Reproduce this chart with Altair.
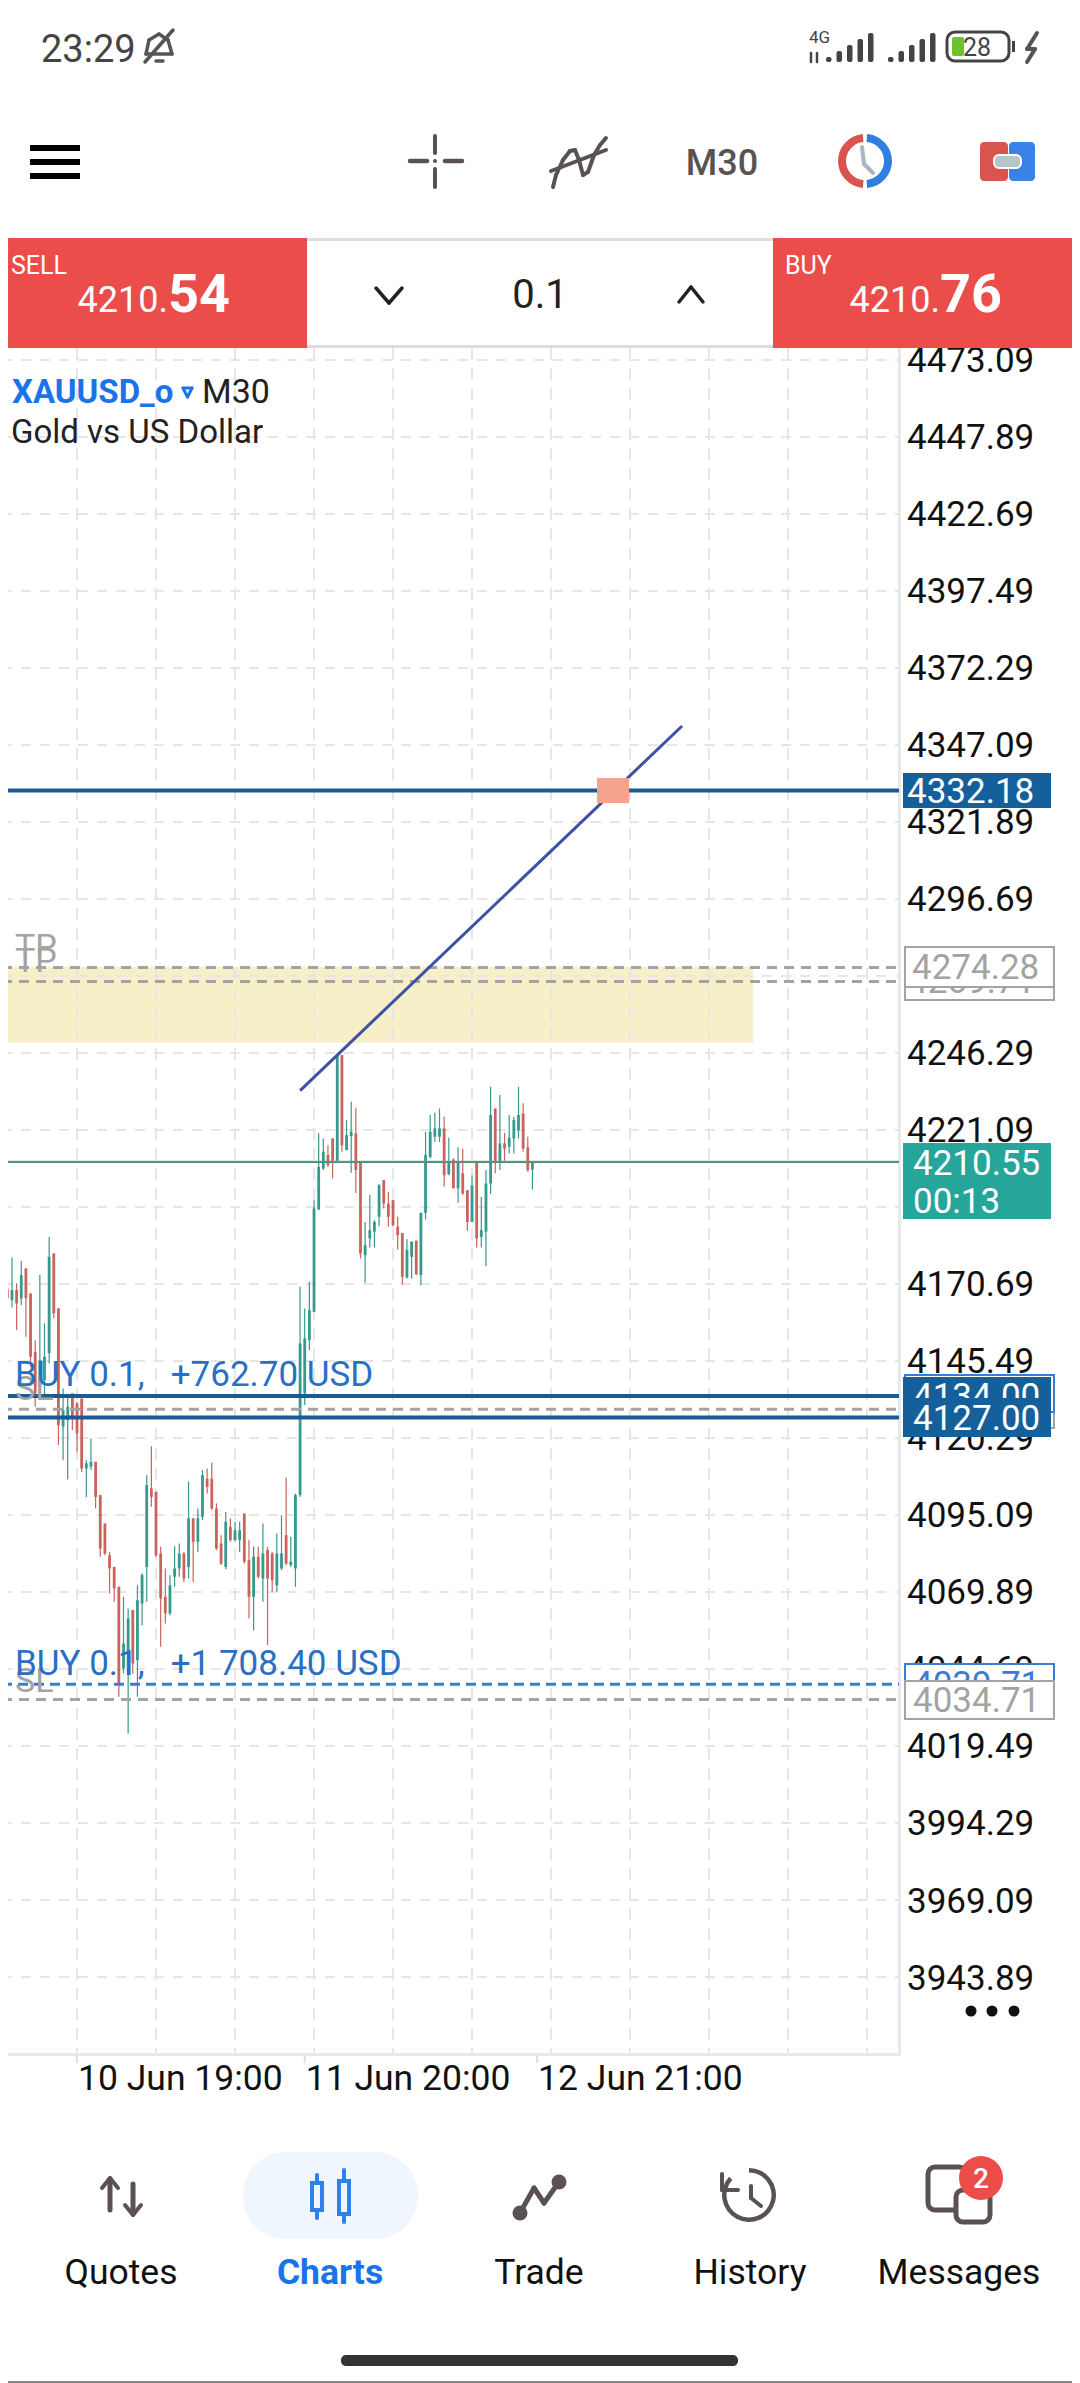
import altair as alt
import pandas as pd

HIGH = [4179.1,4174.7,4179.4,4170.9,4178.3,4175.8,4167.6,4152.3,4173.6,4157.8,
4186.1,4180.7,4162.7,4136.5,4134.3,4134.9,4132.1,4133.2,4113.0,4120.1,
4112.5,4101.6,4092.3,4083.0,4078.1,4071.6,4068.3,4064.5,4064.0,4072.1,
4076.0,4108.1,4117.6,4102.7,4084.7,4077.6,4075.4,4084.9,4085.8,4083.0,
4106.0,4094.0,4097.2,4109.8,4110.3,4112.2,4098.9,4088.5,4096.1,4094.0,
4092.9,4092.9,4095.6,4086.9,4084.7,4084.7,4092.3,4084.7,4083.0,4089.0,
4095.0,4107.4,4088.0,4102.1,4169.8,4162.7,4171.4,4198.1,4220.0,4218.3,
4216.1,4218.3,4245.9,4245.6,4224.3,4230.3,4228.4,4210.7,4191.0,4199.8,
4191.6,4203.4,4204.7,4200.9,4198.1,4192.7,4187.4,4185.3,4184.7,4185.0,
4194.0,4220.5,4226.0,4226.7,4228.1,4225.4,4218.6,4211.8,4215.4,4215.0,
4201.4,4206.3,4210.4,4199.2,4208.0,4235.2,4228.1,4232.5,4220.2,4226.0,
4225.4,4235.2,4229.8,4218.9,4210.6]
LOW = [4165.4,4163.8,4163.0,4155.6,4163.8,4153.4,4143.6,4130.5,4137.0,4132.7,
4144.7,4159.4,4118.0,4113.0,4106.7,4122.9,4115.8,4109.2,4101.0,4109.8,
4097.2,4081.4,4081.9,4069.4,4066.7,4035.6,4043.2,4023.6,4043.2,4035.6,
4059.0,4066.7,4097.8,4081.4,4052.0,4059.6,4062.3,4071.6,4074.9,4073.2,
4074.3,4073.2,4083.0,4093.4,4102.1,4096.7,4083.6,4078.7,4077.3,4086.3,
4086.3,4083.0,4079.2,4061.2,4057.4,4074.3,4066.7,4052.5,4070.0,4070.0,
4077.0,4078.7,4078.1,4071.6,4101.0,4131.1,4149.1,4161.6,4194.9,4208.0,
4209.0,4205.2,4210.7,4214.0,4214.5,4207.1,4200.5,4179.0,4171.1,4182.6,
4182.6,4189.6,4195.4,4189.4,4189.4,4182.0,4170.5,4172.5,4172.5,4173.6,
4170.3,4191.8,4211.8,4217.2,4217.2,4202.5,4206.3,4202.0,4197.3,4199.8,
4188.1,4191.0,4182.6,4182.6,4176.5,4200.1,4206.9,4208.0,4211.0,4213.4,
4213.4,4218.3,4214.0,4207.4,4201.6]
OPEN = [4172.0,4169.2,4165.4,4168.7,4166.0,4175.8,4167.6,4148.5,4137.0,4139.2,
4148.0,4180.7,4162.7,4124.0,4126.1,4134.9,4131.6,4133.2,4110.3,4110.9,
4112.5,4101.6,4092.3,4081.9,4078.1,4071.6,4044.9,4042.7,4064.0,4047.6,
4066.1,4078.1,4103.8,4102.7,4082.5,4068.3,4062.9,4074.9,4077.6,4082.5,
4078.1,4094.0,4086.3,4094.5,4107.0,4107.0,4097.2,4085.8,4078.1,4091.2,
4086.9,4086.9,4095.6,4080.3,4068.3,4081.4,4074.3,4083.6,4082.5,4072.1,
4077.6,4088.5,4078.7,4077.6,4101.6,4134.9,4152.3,4161.6,4195.1,4208.5,
4212.9,4218.3,4211.0,4245.6,4214.5,4219.1,4220.0,4210.7,4180.1,4185.6,
4187.8,4192.7,4204.7,4197.0,4198.1,4189.4,4187.4,4172.8,4179.6,4184.8,
4173.6,4194.0,4212.3,4218.9,4218.9,4221.6,4206.6,4211.4,4202.0,4206.9,
4201.4,4191.0,4210.4,4186.1,4187.8,4203.6,4228.1,4210.7,4216.7,4215.6,
4218.3,4221.0,4226.5,4215.4,4208.2]
CLOSE = [4168.1,4166.0,4168.7,4164.3,4173.6,4166.0,4146.9,4134.9,4145.8,4146.9,
4179.6,4161.1,4124.5,4129.4,4130.5,4126.7,4121.8,4110.3,4112.0,4112.5,
4101.0,4084.1,4082.5,4077.6,4071.0,4040.0,4053.0,4061.2,4046.5,4067.2,
4075.4,4104.9,4101.0,4081.9,4067.8,4062.9,4072.1,4077.6,4082.5,4074.3,
4094.0,4086.3,4094.0,4108.1,4104.3,4097.2,4084.1,4079.2,4092.9,4086.9,
4090.1,4090.1,4079.8,4068.3,4081.4,4074.9,4082.5,4074.3,4073.8,4082.5,
4082.5,4079.2,4079.8,4101.6,4151.2,4152.9,4162.1,4195.4,4209.0,4214.0,
4209.6,4210.7,4245.9,4216.1,4219.4,4220.5,4208.0,4180.7,4183.4,4188.3,
4191.0,4203.0,4197.0,4192.7,4190.0,4186.7,4173.0,4181.8,4184.5,4173.9,
4194.0,4212.9,4220.5,4221.6,4221.6,4206.3,4210.7,4202.0,4210.7,4200.3,
4191.0,4203.0,4185.6,4188.3,4203.6,4226.0,4210.7,4216.7,4215.0,4218.6,
4224.3,4226.0,4215.0,4207.9,4210.4]

PRICE_TICKS = [4473.09,4447.89,4422.69,4397.49,4372.29,4347.09,4321.89,4296.69,4271.49,4246.29,
               4221.09,4195.89,4170.69,4145.49,4120.29,4095.09,4069.89,4044.69,4019.49,3994.29,3969.09,3943.89]
GRID_BARS = [16,33,50,67,84,101,118,135,152,169,186]
DATE_BARS = [16,65,115]
DATE_LABELS = ["10 Jun 19:00","11 Jun 20:00","12 Jun 21:00"]
SOLID_LEVELS = [4332.18,4134.00,4127.00]
GREY_LEVELS = [4274.28,4269.71,4129.71,4034.71]
BLUE_LEVELS = [4039.71]
BID, ASK = 4210.55, 4210.76
TREND = dict(b0=64, b1=146.2, p0=4234.0, p1=4353.3)
ZONE = dict(b0=1.15, b1=161.5, p0=4274.4, p1=4249.6)
MARKER = dict(b0=127.9, b1=134.8, p0=4336.3, p1=4328.1)

FONT = "Roboto"
UP, DOWN = "#35998d", "#cc625c"
GRID = "#e6e6e6"
NAVY = "#15609b"
DARKLINE = "#1b5a94"
GREY = "#a3a3a3"
BLUE = "#3a7bd5"
TEXTBLUE = "#2a6fc4"
ICON = "#5a5252"
RED = "#eb4d4b"
APPBLUE = "#1a73e8"
W, H = 1064, 2375
NUM = 35

xs = alt.Scale(domain=[1.147, 230.11], range=[0, W], nice=False, zero=False)
ys = alt.Scale(domain=[3811.02, 4588.28], range=[H, 0], nice=False, zero=False)
X = lambda f: alt.X(f, type="quantitative", scale=xs, axis=None, title=None)
Y = lambda f: alt.Y(f, type="quantitative", scale=ys, axis=None, title=None)
one = alt.Data(values=[{"a": 0}])
L = []

def px(x): return alt.value(x - 8)

def rect(x0, y0, x1, y1, fill=None, stroke=None, sw=0, r=0):
    kw = {}
    if fill: kw["fill"] = fill
    else: kw["fillOpacity"] = 0
    if stroke:
        kw["stroke"] = stroke; kw["strokeWidth"] = sw
    if r: kw["cornerRadius"] = r
    L.append(alt.Chart(one).mark_rect(**kw).encode(x=px(x0), x2=px(x1), y=px(y0), y2=px(y1)))

def seg(x0, y0, x1, y1, color=ICON, w=4):
    L.append(alt.Chart(one).mark_rule(color=color, strokeWidth=w, strokeCap="round")
             .encode(x=px(x0), x2=px(x1), y=px(y0), y2=px(y1)))

def poly(pts, color=ICON, w=4):
    for a, b in zip(pts, pts[1:]):
        seg(a[0], a[1], b[0], b[1], color, w)

def txt(s, x, y, size=32, color="#111111", align="left", weight="normal"):
    L.append(alt.Chart(one).mark_text(text=s, font=FONT, fontSize=size, color=color, align=align,
                                      baseline="alphabetic", fontWeight=weight).encode(x=px(x), y=px(y)))

def ring(x, y, outer, inner=0, t0=0, t1=6.2832, color=ICON):
    L.append(alt.Chart(one).mark_arc(outerRadius=outer, innerRadius=inner, theta=t0, theta2=t1, color=color)
             .encode(x=px(x), y=px(y)))

bars = pd.DataFrame({"i": range(len(HIGH)), "o": OPEN, "h": HIGH, "l": LOW, "c": CLOSE})
color = alt.condition("datum.c >= datum.o", alt.value(UP), alt.value(DOWN))

# zone
L.append(alt.Chart(pd.DataFrame([ZONE])).mark_rect(fill="#f7efc8")
         .encode(x=X("b0"), x2="b1:Q", y=Y("p0"), y2="p1:Q"))
# grid
L.append(alt.Chart(pd.DataFrame({"p": PRICE_TICKS})).mark_rule(color=GRID, strokeWidth=2, strokeDash=[10, 9])
         .encode(y=Y("p"), x=px(2), x2=px(899)))
L.append(alt.Chart(pd.DataFrame({"b": GRID_BARS})).mark_rule(color=GRID, strokeWidth=2, strokeDash=[12, 8])
         .encode(x=X("b"), y=px(348), y2=px(2054)))
# frame
rect(0, 2053, 899, 2056, fill="#e8e8e8")
rect(898, 348, 901, 2056, fill="#e8e8e8")
L.append(alt.Chart(pd.DataFrame({"b": DATE_BARS})).mark_rule(color="#e0e0e0", strokeWidth=2)
         .encode(x=X("b"), y=px(2056), y2=px(2063)))
L.append(alt.Chart(pd.DataFrame({"b": DATE_BARS, "t": DATE_LABELS})).mark_text(font=FONT, fontSize=NUM + 0.5, color="#111111", align="left", baseline="alphabetic", dx=1)
         .encode(x=X("b"), y=px(2090), text="t:N"))
# price labels
L.append(alt.Chart(pd.DataFrame({"p": PRICE_TICKS})).mark_text(font=FONT, fontSize=NUM, color="#111111", align="left", baseline="middle", dy=1.5)
         .encode(y=Y("p"), x=px(907), text=alt.Text("p:Q", format=".2f")))
# candles
L.append(alt.Chart(bars).mark_rule(strokeWidth=1.2).encode(x=X("i"), y=Y("h"), y2="l:Q", color=color))
L.append(alt.Chart(bars).mark_rule(strokeWidth=2.8).encode(x=X("i"), y=Y("o"), y2="c:Q", color=color))
# level lines
L.append(alt.Chart(pd.DataFrame({"p": GREY_LEVELS})).mark_rule(color=GREY, strokeWidth=3, strokeDash=[10, 7])
         .encode(y=Y("p"), x=px(2), x2=px(899)))
L.append(alt.Chart(pd.DataFrame({"p": BLUE_LEVELS})).mark_rule(color=BLUE, strokeWidth=3, strokeDash=[10, 6])
         .encode(y=Y("p"), x=px(2), x2=px(899)))
L.append(alt.Chart(pd.DataFrame({"p": SOLID_LEVELS})).mark_rule(color=DARKLINE, strokeWidth=4)
         .encode(y=Y("p"), x=px(2), x2=px(899)))
L.append(alt.Chart(pd.DataFrame({"p": [ASK]})).mark_rule(color="#a58a84", strokeWidth=1.5).encode(y=Y("p"), x=px(2), x2=px(899)))
L.append(alt.Chart(pd.DataFrame({"p": [BID]})).mark_rule(color="#4f8a80", strokeWidth=1.5).encode(y=Y("p"), x=px(2), x2=px(899)))
L.append(alt.Chart(pd.DataFrame([TREND])).mark_rule(color="#3f51a5", strokeWidth=3)
         .encode(x=X("b0"), x2="b1:Q", y=Y("p0"), y2="p1:Q"))
L.append(alt.Chart(pd.DataFrame([MARKER])).mark_rect(fill="#f5a38c")
         .encode(x=X("b0"), x2="b1:Q", y=Y("p0"), y2="p1:Q"))

# trade labels
txt("TP", 15, 958, 34, GREY)
txt("TP", 15, 972, 34, GREY)
txt("SL", 15, 1400, 34, GREY)
txt("SL", 15, 1692, 34, GREY)
txt("BUY 0.1,\u00a0\u00a0 +762.70 USD", 15, 1386, 35, TEXTBLUE)
txt("BUY 0.1,\u00a0\u00a0 +1 708.40 USD", 15, 1675, 35, TEXTBLUE)

# price boxes
rect(903, 773, 1051, 808, fill=NAVY)
txt("4332.18", 907, 803, NUM, "#ffffff")
rect(905, 963, 1054, 1000, fill="#ffffff", stroke=GREY, sw=2)
txt("4269.71", 908, 993, NUM, GREY)
rect(905, 947, 1054, 987, fill="#ffffff", stroke=GREY, sw=2)
txt("4274.28", 912, 979, NUM, GREY)
rect(903, 1143, 1051, 1219, fill="#26a69a")
txt("4210.55", 913, 1175, NUM, "#ffffff")
txt("00:13", 913, 1213, NUM, "#ffffff")
rect(905, 1388, 1054, 1428, fill="#ffffff", stroke=GREY, sw=2)
rect(905, 1375, 1054, 1412, fill="#ffffff", stroke=BLUE, sw=2)
rect(903, 1377, 1051, 1415, fill=NAVY)
txt("4134.00", 913, 1408, NUM, "#ffffff")
rect(903, 1398, 1051, 1437, fill=NAVY)
txt("4127.00", 913, 1430, NUM, "#ffffff")
rect(905, 1664, 1054, 1700, fill="#ffffff", stroke=BLUE, sw=2)
txt("4039.71", 913, 1696, NUM, BLUE)
rect(905, 1681, 1054, 1719, fill="#ffffff", stroke=GREY, sw=2)
txt("4034.71", 913, 1712, NUM, GREY)
for cx in (971, 992, 1014):
    ring(cx, 2011, 5.5, color="#111111")

# header
rect(0, 0, 1080, 348, fill="#ffffff")
rect(307, 238, 773, 241, fill="#dddddd")
rect(307, 345, 773, 348, fill="#dddddd")
rect(0, 238, 307, 348, fill=RED)
rect(773, 238, 1080, 348, fill=RED)
txt("SELL", 11, 274, 25, "#ffffff")
txt("4210.", 168, 312, 36, "#ffffff", align="right")
txt("54", 168, 312, 54, "#ffffff", weight="bold")
txt("BUY", 785, 274, 25, "#ffffff")
txt("4210.", 940, 312, 36, "#ffffff", align="right")
txt("76", 940, 312, 54, "#ffffff", weight="bold")
txt("0.1", 540, 308, 40, "#222222", align="center")
poly([(376, 288), (389, 303), (402, 288)], "#222222", 3.5)
poly([(679, 302), (691, 287), (703, 302)], "#222222", 3.5)
txt("XAUUSD_o", 12, 403, 33, APPBLUE, weight="bold")
poly([(183, 388), (192, 388), (187.5, 397), (183, 388)], APPBLUE, 3)
txt("M30", 202, 403, 34, "#222222")
txt("Gold vs US Dollar", 11, 443, 33, "#222222")

# status bar
txt("23:29", 41, 62, 38, "#444444")
poly([(146, 54), (149, 40), (159, 34), (168, 40), (172, 54), (146, 54)], "#555555", 3.5)
seg(156, 61, 163, 61, "#555555", 3.5)
seg(145, 62, 173, 30, "#555555", 3.5)
txt("4G", 809, 43, 17, "#444444")
tops = [57, 51, 45, 39, 33]
for gx in (826, 888):
    for k, t in enumerate(tops):
        rect(gx + k * 10.5, t, gx + k * 10.5 + 5.5, 62, fill="#444444", r=2)
seg(811, 53, 811, 62, "#444444", 2.5)
seg(817, 53, 817, 62, "#444444", 2.5)
rect(947, 32, 1009, 61, stroke="#444444", sw=3, r=8)
rect(952, 37, 964, 56, fill="#6cc32a", r=2)
txt("28", 977, 56, 25, "#444444", align="center")
rect(1012, 41, 1015, 52, fill="#444444")
poly([(1037, 33), (1027, 49), (1035, 49), (1027, 62)], "#555555", 4)

# toolbar
for yy in (145, 159, 173):
    rect(30, yy, 80, yy + 6, fill="#000000")
seg(435, 136, 435, 153, ICON, 4)
seg(435, 169, 435, 187, ICON, 4)
seg(410, 161, 427, 161, ICON, 4.5)
seg(445, 161, 462, 161, ICON, 4.5)
ring(435, 161, 2, color=ICON)
poly([(553, 187), (556, 175), (563, 160), (570, 151), (575, 150), (579, 160), (583, 175), (588, 172), (594, 155), (600, 145), (606, 138)], ICON, 4)
seg(551, 171, 606, 150, ICON, 4)
txt("M30", 722, 175, 36, ICON, align="center", weight=500)
ring(865, 161, 27, 19, 0.08, 3.06, "#2f7fe0")
ring(865, 161, 27, 19, 3.22, 6.2, "#d9534f")
poly([(862, 147), (864, 164), (873, 173)], "#aab6bd", 4)
rect(980, 142, 1008, 181, fill="#d9534f", r=4)
rect(1009, 142, 1035, 181, fill="#3b82e8", r=4)
rect(994, 155, 1021, 168, fill="#b8c4cc", stroke="#ffffff", sw=2, r=5)

# bottom nav
rect(243, 2152, 418, 2239, fill="#eff6fd", r=43)
for label, cx, c, wt in [("Quotes", 121, "#111111", "normal"), ("Charts", 330, APPBLUE, "bold"),
                         ("Trade", 539, "#111111", "normal"), ("History", 750, "#111111", "normal"),
                         ("Messages", 959, "#111111", "normal")]:
    txt(label, cx, 2284, 35.5, c, align="center", weight=wt)
seg(110, 2179, 110, 2210, ICON, 5)
poly([(102, 2188), (110, 2178), (118, 2188)], ICON, 4)
seg(133, 2184, 133, 2214, ICON, 5)
poly([(125, 2205), (133, 2215), (141, 2205)], ICON, 4)
CB = "#2f80ed"
rect(312, 2183, 322, 2210, stroke=CB, sw=4)
seg(317, 2175, 317, 2183, CB, 4)
seg(317, 2210, 317, 2218, CB, 4)
rect(339, 2181, 349, 2214, stroke=CB, sw=4)
seg(344, 2170, 344, 2181, CB, 4)
seg(344, 2214, 344, 2222, CB, 4)
poly([(520, 2213), (534, 2188), (544, 2203), (559, 2182)], ICON, 5)
ring(520, 2213, 7.5)
ring(559, 2182, 7.5)
ring(749, 2195, 27, 22.5, 0, 5.45)
poly([(751, 2186), (751, 2198), (761, 2206)], ICON, 4)
poly([(722, 2174), (722, 2190), (738, 2190)], ICON, 4)
rect(928, 2167, 966, 2210, stroke=ICON, sw=5, r=7)
rect(956, 2190, 990, 2222, fill="#ffffff", stroke=ICON, sw=5, r=7)
ring(981, 2178, 22, color=RED)
txt("2", 981, 2188, 28, "#ffffff", align="center", weight=500)
rect(341, 2355, 738, 2366, fill="#333333", r=5)
rect(0, 2381, 1080, 2383, fill="#888888")

chart = alt.layer(*L).properties(width=W, height=H, padding=0,
                                 autosize=alt.AutoSizeParams(type="none"),
                                 background="#ffffff").configure_view(stroke=None)
chart.save("out.html", embed_options={"renderer": "svg", "actions": False})
